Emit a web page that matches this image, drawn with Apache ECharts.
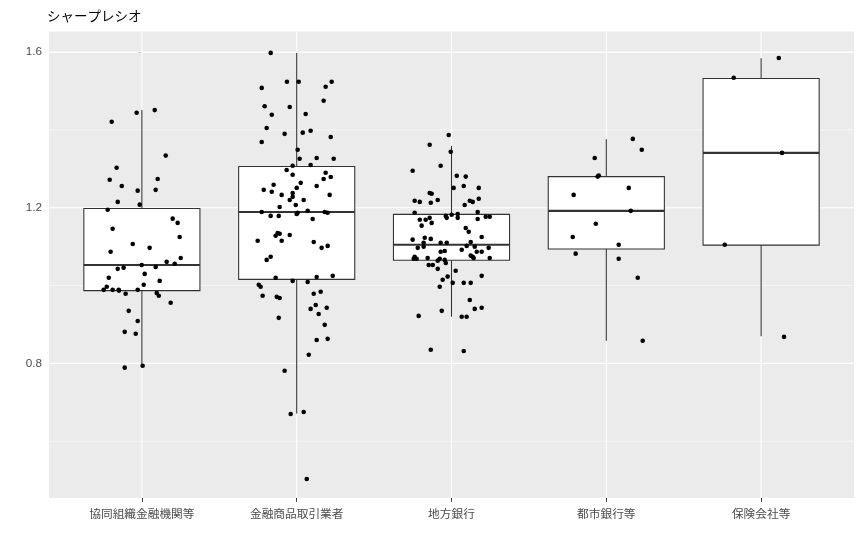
<!DOCTYPE html>
<html>
<head>
<meta charset="utf-8">
<script src="https://cdn.jsdelivr.net/npm/echarts@6/dist/echarts.min.js"></script>
<style>
  html, body { margin: 0; padding: 0; background: #fff; }
  #chart { width: 862px; height: 545px; }
</style>
</head>
<body>
<div id="chart"></div>
<script>
// ---- data ----
const title = 'シャープレシオ';
const categories = ['協同組織金融機関等', '金融商品取引業者', '地方銀行', '都市銀行等', '保険会社等'];
const yTickValues = [0.8, 1.2, 1.6];
const yMinorValues = [0.6, 1.0, 1.4];
const yRange = [0.454, 1.653];
const xRange = [-0.6, 4.6];

// box statistics: [lower whisker, Q1, median, Q3, upper whisker]
const box1 = [0.794, 0.987, 1.053, 1.198, 1.451];
const box2 = [0.671, 1.016, 1.189, 1.306, 1.598];
const box3 = [0.920, 1.065, 1.105, 1.183, 1.359];
const box4 = [0.858, 1.094, 1.192, 1.280, 1.376];
const box5 = [0.870, 1.104, 1.341, 1.532, 1.584];

// jittered points: [horizontal jitter (category units), sharpe ratio]
const pts1 = [
  [0.083,1.451],[-0.034,1.444],[-0.195,1.421],[0.154,1.334],[-0.163,1.303],[-0.208,1.272],
  [0.102,1.274],[-0.130,1.256],[-0.027,1.244],[0.089,1.246],[-0.156,1.215],[-0.014,1.208],
  [-0.221,1.195],[0.199,1.172],[0.231,1.161],[-0.189,1.146],[0.244,1.125],[-0.059,1.107],
  [0.050,1.097],[-0.202,1.087],[0.251,1.071],[0.160,1.061],[0.212,1.056],[-0.001,1.053],
  [0.089,1.048],[-0.156,1.043],[-0.118,1.046],[0.018,1.030],[-0.214,1.020],[0.115,1.012],
  [0.012,1.002],[-0.227,0.997],[-0.247,0.989],[-0.189,0.989],[-0.150,0.989],[-0.148,0.987],
  [-0.027,0.989],[-0.105,0.979],[0.096,0.981],[0.109,0.974],[0.186,0.956],[-0.085,0.935],
  [-0.027,0.909],[-0.111,0.881],[-0.040,0.876],[-0.111,0.789],[0.005,0.794]
];
const pts2 = [
  [-0.168,1.598],[-0.063,1.524],[0.013,1.524],[0.226,1.524],[-0.226,1.508],[0.187,1.511],
  [0.174,1.475],[-0.207,1.461],[-0.045,1.459],[-0.161,1.439],[0.058,1.441],[-0.194,1.405],
  [-0.078,1.390],[0.039,1.393],[0.090,1.398],[0.220,1.382],[-0.226,1.369],[0.006,1.349],
  [0.019,1.326],[0.129,1.328],[0.239,1.326],[0.090,1.310],[-0.026,1.308],[-0.065,1.297],
  [0.187,1.290],[-0.026,1.285],[0.220,1.279],[0.174,1.274],[0.026,1.264],[-0.149,1.259],
  [0.129,1.256],[0.000,1.251],[-0.213,1.246],[-0.161,1.241],[-0.026,1.238],[-0.097,1.233],
  [0.213,1.233],[-0.026,1.228],[-0.045,1.220],[0.045,1.220],[-0.006,1.207],[-0.110,1.202],
  [-0.226,1.189],[0.071,1.192],[0.006,1.187],[0.000,1.184],[0.181,1.189],[0.200,1.187],
  [-0.168,1.179],[-0.116,1.179],[0.103,1.171],[-0.123,1.135],[-0.136,1.128],[-0.110,1.133],
  [-0.045,1.130],[-0.252,1.115],[-0.097,1.115],[0.110,1.112],[0.200,1.102],[0.161,1.097],
  [-0.168,1.074],[-0.194,1.066],[-0.136,1.020],[0.129,1.022],[0.233,1.025],[-0.026,1.012],
  [0.071,1.009],[-0.245,1.002],[-0.233,0.997],[-0.220,0.974],[-0.129,0.971],[-0.110,0.968],
  [0.110,0.979],[0.155,0.984],[0.123,0.950],[0.090,0.940],[0.194,0.943],[0.142,0.927],
  [-0.116,0.917],[0.181,0.899],[0.129,0.860],[0.200,0.863],[0.078,0.822],[-0.078,0.781],
  [-0.039,0.670],[0.045,0.675],[0.065,0.503]
];
const pts3 = [
  [-0.018,1.387],[-0.141,1.362],[-0.005,1.344],[-0.251,1.295],[-0.070,1.308],[0.034,1.282],
  [0.092,1.280],[0.014,1.251],[0.079,1.256],[0.176,1.251],[-0.141,1.238],[-0.128,1.236],
  [0.176,1.223],[-0.238,1.218],[-0.205,1.215],[-0.134,1.213],[-0.089,1.220],[0.118,1.218],
  [0.137,1.215],[0.085,1.207],[-0.238,1.187],[0.169,1.189],[-0.037,1.179],[0.001,1.182],
  [0.040,1.184],[-0.031,1.174],[0.040,1.174],[0.221,1.177],[0.247,1.177],[-0.141,1.174],
  [-0.205,1.169],[-0.167,1.169],[0.169,1.171],[-0.128,1.161],[-0.193,1.154],[0.092,1.148],
  [0.111,1.138],[-0.251,1.118],[-0.173,1.123],[-0.134,1.120],[0.195,1.125],[-0.180,1.110],
  [-0.180,1.100],[-0.070,1.110],[-0.031,1.110],[0.124,1.112],[-0.218,1.097],[0.098,1.102],
  [0.150,1.100],[0.240,1.097],[0.066,1.092],[-0.070,1.087],[-0.044,1.089],[0.163,1.087],
  [0.195,1.087],[0.124,1.077],[0.137,1.074],[0.143,1.071],[-0.238,1.074],[-0.244,1.069],
  [-0.225,1.069],[-0.154,1.071],[-0.076,1.069],[-0.089,1.064],[-0.044,1.066],[-0.037,1.058],
  [0.247,1.071],[-0.147,1.053],[-0.121,1.053],[-0.089,1.043],[0.027,1.038],[0.195,1.025],
  [-0.025,1.023],[-0.057,1.015],[0.008,1.007],[0.079,1.007],[0.124,1.007],[-0.076,0.997],
  [0.118,0.963],[0.150,0.940],[0.195,0.943],[-0.063,0.935],[-0.212,0.922],[0.066,0.920],
  [0.098,0.920],[-0.134,0.835],[0.079,0.832]
];
const pts4 = [
  [0.171,1.377],[0.229,1.349],[-0.075,1.328],[-0.049,1.283],[-0.056,1.280],[0.145,1.251],
  [-0.211,1.233],[0.158,1.192],[-0.068,1.159],[-0.217,1.125],[0.080,1.105],[-0.198,1.082],
  [0.080,1.069],[0.203,1.020],[0.235,0.858]
];
const pts5 = [
  [0.114,1.585],[-0.177,1.534],[0.135,1.341],[-0.235,1.105],[0.148,0.868]
];

// ---- build options ----
const boxes = [box1, box2, box3, box4, box5];
const pointGroups = [pts1, pts2, pts3, pts4, pts5];
const boxData = boxes.map((b, i) => [i].concat(b));
const pointData = [];
pointGroups.forEach((g, i) => g.forEach(p => pointData.push([i + p[0], p[1]])));

const hLines = yMinorValues.map(v => [v, 0]).concat(yTickValues.map(v => [v, 1]));
const vLines = categories.map((c, i) => [i]);

const gridStroke = '#FFFFFF';
const chart = echarts.init(document.getElementById('chart'), null, { renderer: 'canvas' });
chart.setOption({
  animation: false,
  backgroundColor: '#FFFFFF',
  title: {
    text: title,
    left: 47, top: 9, padding: 0,
    textStyle: { fontSize: 13.5, fontWeight: 'normal', color: '#000000', fontFamily: 'Noto Sans CJK JP' }
  },
  grid: {
    left: 49, right: 8, top: 31.5, bottom: 47,
    show: true, backgroundColor: '#EBEBEB', borderWidth: 0
  },
  xAxis: {
    type: 'value', min: xRange[0], max: xRange[1],
    axisLine: { show: false },
    splitLine: { show: false },
    axisTick: { show: true, customValues: categories.map((c, i) => i), length: 3.7, lineStyle: { color: '#333333', width: 1 } },
    axisLabel: {
      customValues: categories.map((c, i) => i),
      formatter: v => categories[Math.round(v)] || '',
      color: '#4D4D4D', fontSize: 11.7, margin: 10,
      fontFamily: 'Noto Sans CJK JP'
    }
  },
  yAxis: {
    type: 'value', min: yRange[0], max: yRange[1],
    axisLine: { show: false },
    splitLine: { show: false },
    axisTick: { show: true, customValues: yTickValues, length: 3.7, lineStyle: { color: '#333333', width: 1 } },
    axisLabel: {
      customValues: yTickValues,
      formatter: v => v.toFixed(1),
      color: '#4D4D4D', fontSize: 11.7, margin: 7,
      fontFamily: 'Liberation Sans, Arial, sans-serif'
    }
  },
  series: [
    {
      type: 'custom', z: 1, silent: true, clip: true,
      data: hLines,
      encode: { y: 0 },
      renderItem: (params, api) => {
        const v = api.value(0);
        const a = api.coord([xRange[0], v]);
        const b = api.coord([xRange[1], v]);
        return { type: 'line', shape: { x1: a[0], y1: a[1], x2: b[0], y2: b[1] },
          style: { stroke: gridStroke, lineWidth: api.value(1) ? 1.1 : 0.55 } };
      }
    },
    {
      type: 'custom', z: 1, silent: true, clip: true,
      data: vLines,
      encode: { x: 0 },
      renderItem: (params, api) => {
        const x = api.value(0);
        const a = api.coord([x, yRange[0]]);
        const b = api.coord([x, yRange[1]]);
        return { type: 'line', shape: { x1: a[0], y1: a[1], x2: b[0], y2: b[1] },
          style: { stroke: gridStroke, lineWidth: 1.1 } };
      }
    },
    {
      type: 'custom', z: 2, silent: true,
      data: boxData,
      encode: { x: 0, y: [1, 2, 3, 4, 5] },
      renderItem: (params, api) => {
        const x = api.value(0);
        const lo = api.coord([x, api.value(1)]);
        const q1 = api.coord([x, api.value(2)]);
        const md = api.coord([x, api.value(3)]);
        const q3 = api.coord([x, api.value(4)]);
        const hi = api.coord([x, api.value(5)]);
        const w = api.size([0.75, 0])[0];
        const st = { stroke: '#333333', lineWidth: 1.07 };
        return { type: 'group', children: [
          { type: 'line', shape: { x1: lo[0], y1: lo[1], x2: q1[0], y2: q1[1] }, style: st },
          { type: 'line', shape: { x1: hi[0], y1: hi[1], x2: q3[0], y2: q3[1] }, style: st },
          { type: 'rect', shape: { x: q3[0] - w / 2, y: q3[1], width: w, height: q1[1] - q3[1] },
            style: { fill: '#FFFFFF', stroke: '#333333', lineWidth: 1.07 } },
          { type: 'line', shape: { x1: md[0] - w / 2, y1: md[1], x2: md[0] + w / 2, y2: md[1] },
            style: { stroke: '#333333', lineWidth: 2.1 } }
        ] };
      }
    },
    {
      type: 'scatter', z: 3, silent: true,
      data: pointData,
      symbol: 'circle', symbolSize: 4.6,
      itemStyle: { color: '#000000', opacity: 1 }
    }
  ]
});
</script>
</body>
</html>
